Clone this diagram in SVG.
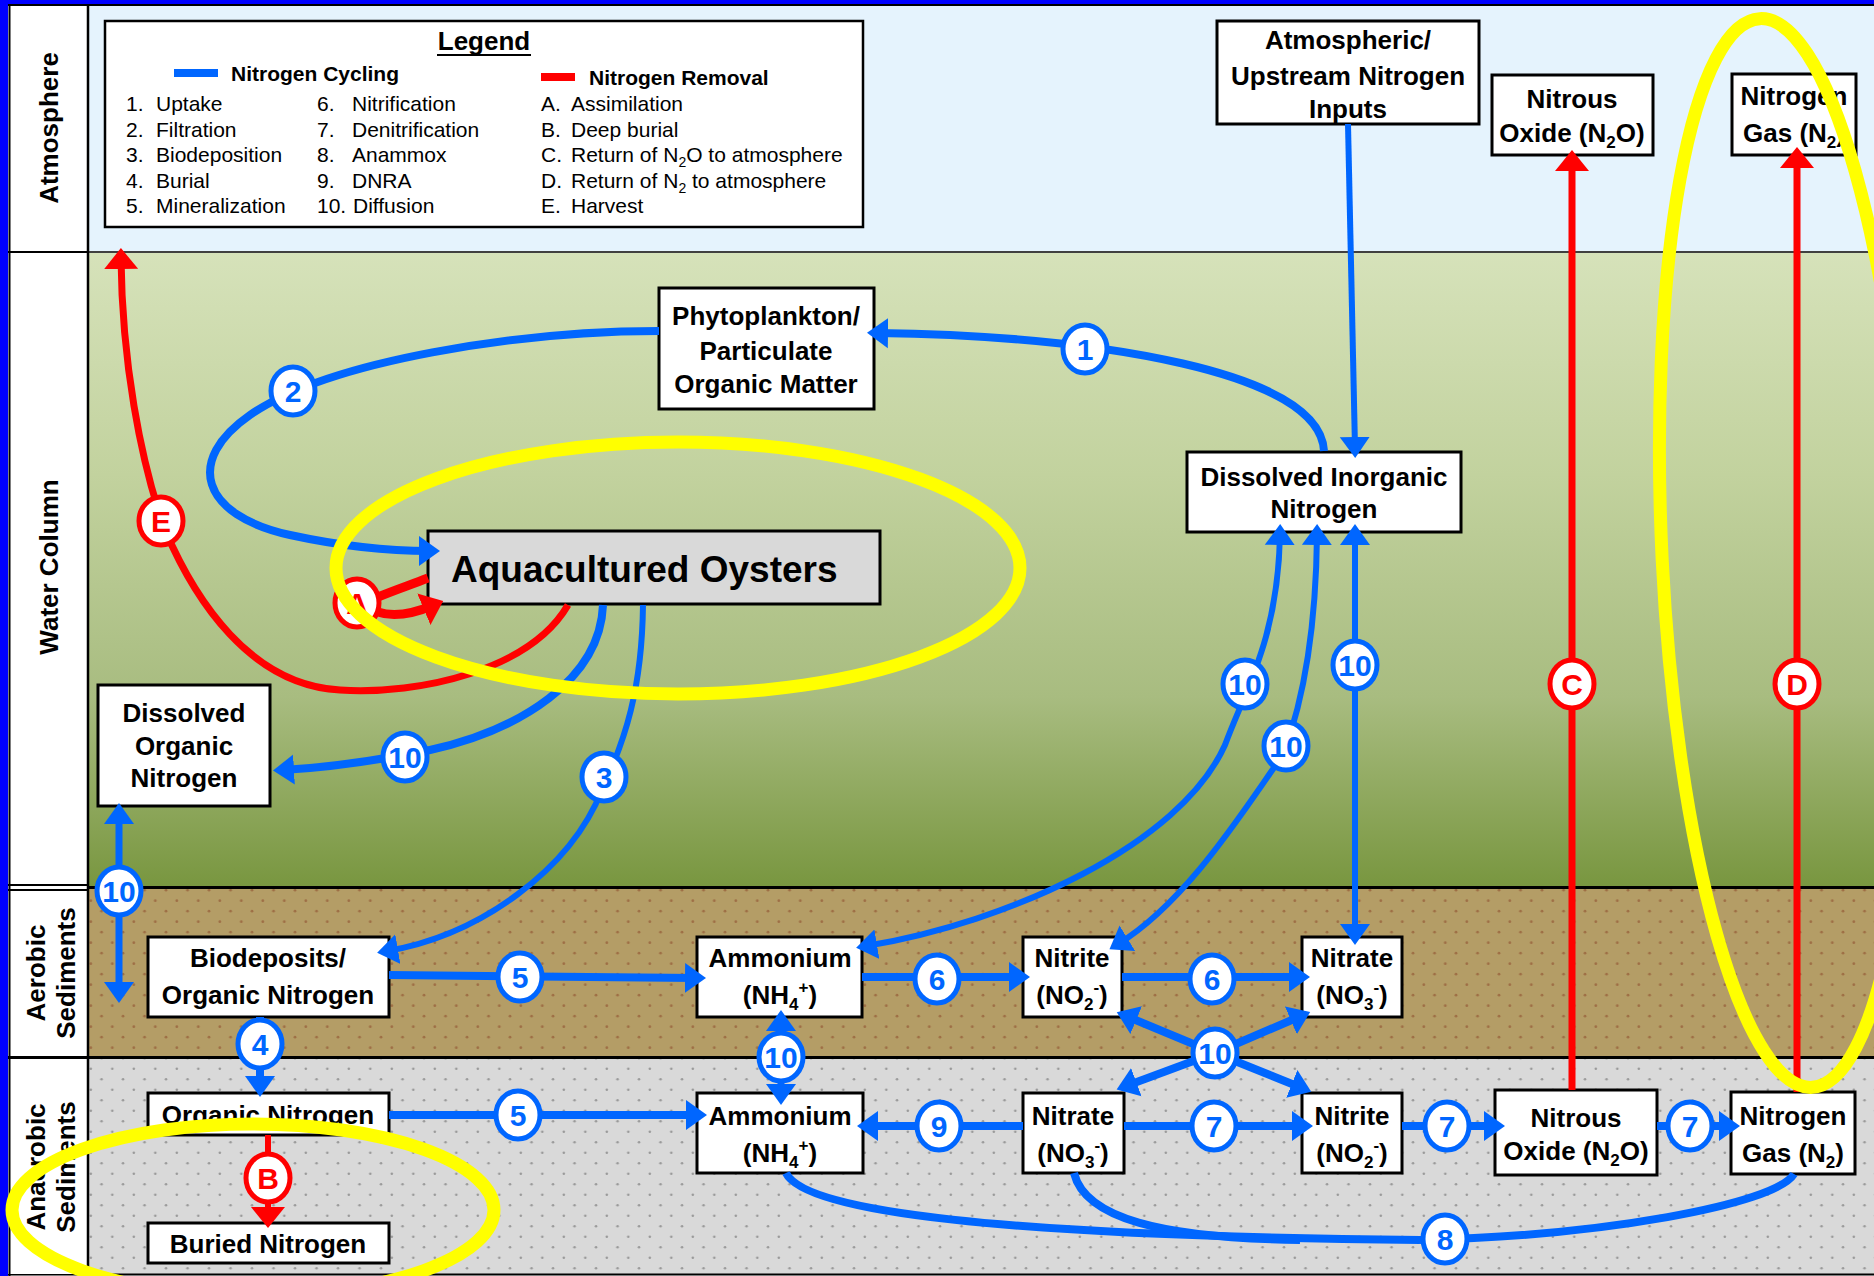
<svg xmlns="http://www.w3.org/2000/svg" width="1874" height="1276" viewBox="0 0 1874 1276">
<style>
.nb{fill:#fff;stroke:#000;stroke-width:3}
.nt{font-family:"Liberation Sans",Arial,sans-serif;font-weight:bold;font-size:26px;text-anchor:middle;fill:#000}
.lt{font-family:"Liberation Sans",Arial,sans-serif;font-size:21px;fill:#000}
.lh{font-family:"Liberation Sans",Arial,sans-serif;font-weight:bold;font-size:21px;fill:#000}
.side{font-family:"Liberation Sans",Arial,sans-serif;font-weight:bold;font-size:26px;text-anchor:middle;fill:#000}
.bl{fill:none;stroke:#0066FF}
.rl{fill:none;stroke:#FF0000}
.cb{fill:#fff;stroke:#0066FF;stroke-width:5}
.cr{fill:#fff;stroke:#FF0000;stroke-width:5}
.ctb{font-family:"Liberation Sans",Arial,sans-serif;font-weight:bold;font-size:30px;text-anchor:middle;fill:#0066FF}
.ctr{font-family:"Liberation Sans",Arial,sans-serif;font-weight:bold;font-size:30px;text-anchor:middle;fill:#FF0000}
.yl{fill:none;stroke:#FFFF00;stroke-width:13}
.sub{font-size:17px}
</style>
<defs>
<linearGradient id="gw" x1="0" y1="0" x2="0" y2="1">
<stop offset="0" stop-color="#D6E2BA"/>
<stop offset="0.35" stop-color="#C2D29E"/>
<stop offset="0.7" stop-color="#A8BC80"/>
<stop offset="1" stop-color="#78963F"/>
</linearGradient>
<pattern id="pa" patternUnits="userSpaceOnUse" x="0" y="0" width="21.5" height="21">
<circle cx="4.8" cy="18.7" r="1.4" fill="#9E6F45"/>
<circle cx="15.55" cy="8.2" r="1.4" fill="#9E6F45"/>
</pattern>
<pattern id="pn" patternUnits="userSpaceOnUse" x="0" y="0" width="21.5" height="21">
<circle cx="4.8" cy="18.7" r="1.3" fill="#9A9A9A"/>
<circle cx="15.55" cy="8.2" r="1.3" fill="#9A9A9A"/>
</pattern>
<marker id="ab" markerUnits="userSpaceOnUse" markerWidth="24" markerHeight="32" refX="11" refY="16" orient="auto-start-reverse">
<path d="M0,1 L21,16 L0,31 z" fill="#0066FF"/>
</marker>
<marker id="ar" markerUnits="userSpaceOnUse" markerWidth="24" markerHeight="36" refX="11" refY="18" orient="auto-start-reverse">
<path d="M0,1 L21,18 L0,35 z" fill="#FF0000"/>
</marker>
</defs>

<g id="background">
<rect x="0" y="0" width="1874" height="1276" fill="#fff"/>
<rect x="88" y="6" width="1786" height="246" fill="#E5F3FD"/>
<rect x="88" y="252" width="1786" height="636" fill="url(#gw)"/>
<rect x="88" y="888" width="1786" height="169" fill="#B49D66"/>
<rect x="88" y="888" width="1786" height="169" fill="url(#pa)"/>
<rect x="88" y="1057" width="1786" height="217" fill="#D9D9D9"/>
<rect x="88" y="1057" width="1786" height="217" fill="url(#pn)"/>
<line x1="88" y1="252" x2="1874" y2="252" stroke="#404040" stroke-width="2"/>
<line x1="88" y1="887.5" x2="1874" y2="887.5" stroke="#000" stroke-width="3"/>
<line x1="88" y1="1057.5" x2="1874" y2="1057.5" stroke="#000" stroke-width="3"/>
<line x1="8" y1="1274.5" x2="1874" y2="1274.5" stroke="#000" stroke-width="2"/>
<rect x="8" y="6" width="80" height="1268" fill="#fff"/>
<line x1="88" y1="6" x2="88" y2="1276" stroke="#000" stroke-width="2.5"/>
<line x1="9.5" y1="6" x2="9.5" y2="1276" stroke="#000" stroke-width="2"/>
<line x1="8" y1="252" x2="88" y2="252" stroke="#000" stroke-width="2"/>
<line x1="8" y1="885" x2="88" y2="885" stroke="#000" stroke-width="2"/>
<line x1="8" y1="890" x2="88" y2="890" stroke="#000" stroke-width="2"/>
<line x1="8" y1="1057.5" x2="88" y2="1057.5" stroke="#000" stroke-width="3"/>
<rect x="0" y="0" width="1874" height="4" fill="#0000FF"/>
<line x1="0" y1="5" x2="1874" y2="5" stroke="#000" stroke-width="2"/>
<rect x="0" y="0" width="8" height="1276" fill="#0000FF"/>
<text class="side" transform="translate(58,128) rotate(-90)">Atmosphere</text>
<text class="side" transform="translate(58,567) rotate(-90)">Water Column</text>
<text class="side" transform="translate(45,973) rotate(-90)">Aerobic</text>
<text class="side" transform="translate(75,973) rotate(-90)">Sediments</text>
<text class="side" transform="translate(45,1167) rotate(-90)">Anaerobic</text>
<text class="side" transform="translate(75,1167) rotate(-90)">Sediments</text>
</g>

<g id="legend">
<rect x="105" y="21" width="758" height="206" fill="#fff" stroke="#000" stroke-width="2.5"/>
<text x="484" y="50" text-anchor="middle" font-family="Liberation Sans, Arial, sans-serif" font-weight="bold" font-size="26">Legend</text>
<line x1="437" y1="55" x2="531" y2="55" stroke="#000" stroke-width="2"/>
<rect x="174" y="69" width="44" height="8" fill="#0066FF"/>
<text class="lh" x="231" y="81">Nitrogen Cycling</text>
<rect x="541" y="73" width="34" height="8" fill="#FF0000"/>
<text class="lh" x="589" y="85">Nitrogen Removal</text>
<text class="lt" x="126" y="111">1.</text><text class="lt" x="156" y="111">Uptake</text>
<text class="lt" x="126" y="137">2.</text><text class="lt" x="156" y="137">Filtration</text>
<text class="lt" x="126" y="162">3.</text><text class="lt" x="156" y="162">Biodeposition</text>
<text class="lt" x="126" y="188">4.</text><text class="lt" x="156" y="188">Burial</text>
<text class="lt" x="126" y="213">5.</text><text class="lt" x="156" y="213">Mineralization</text>
<text class="lt" x="317" y="111">6.</text><text class="lt" x="352" y="111">Nitrification</text>
<text class="lt" x="317" y="137">7.</text><text class="lt" x="352" y="137">Denitrification</text>
<text class="lt" x="317" y="162">8.</text><text class="lt" x="352" y="162">Anammox</text>
<text class="lt" x="317" y="188">9.</text><text class="lt" x="352" y="188">DNRA</text>
<text class="lt" x="317" y="213">10.</text><text class="lt" x="353" y="213">Diffusion</text>
<text class="lt" x="541" y="111">A.</text><text class="lt" x="571" y="111">Assimilation</text>
<text class="lt" x="541" y="137">B.</text><text class="lt" x="571" y="137">Deep burial</text>
<text class="lt" x="541" y="162">C.</text><text class="lt" x="571" y="162">Return of N<tspan font-size="14" dy="5">2</tspan><tspan dy="-5">O to atmosphere</tspan></text>
<text class="lt" x="541" y="188">D.</text><text class="lt" x="571" y="188">Return of N<tspan font-size="14" dy="5">2</tspan><tspan dy="-5"> to atmosphere</tspan></text>
<text class="lt" x="541" y="213">E.</text><text class="lt" x="571" y="213">Harvest</text>
</g>

<g id="n_atm"><rect class="nb" x="1217" y="21" width="262" height="103"/>
<text class="nt" x="1348" y="49">Atmospheric/</text><text class="nt" x="1348" y="85">Upstream Nitrogen</text><text class="nt" x="1348" y="118">Inputs</text></g>
<g id="n_n2o_atm"><rect class="nb" x="1492" y="75" width="161" height="80"/>
<text class="nt" x="1572" y="108">Nitrous</text><text class="nt" x="1572" y="142">Oxide (N<tspan class="sub" dy="6">2</tspan><tspan dy="-6">O)</tspan></text></g>
<g id="n_n2_atm"><rect class="nb" x="1732" y="74" width="124" height="81"/>
<text class="nt" x="1794" y="105">Nitrogen</text><text class="nt" x="1794" y="142">Gas (N<tspan class="sub" dy="6">2</tspan><tspan dy="-6">)</tspan></text></g>
<g id="n_phyto"><rect class="nb" x="659" y="288" width="215" height="121"/>
<text class="nt" x="766" y="325">Phytoplankton/</text><text class="nt" x="766" y="360">Particulate</text><text class="nt" x="766" y="393">Organic Matter</text></g>
<g id="n_oysters"><rect x="428" y="531" width="452" height="73" fill="#D9D9D9" stroke="#000" stroke-width="3"/>
<text x="451" y="582" font-family="Liberation Sans, Arial, sans-serif" font-weight="bold" font-size="37">Aquacultured Oysters</text></g>
<g id="n_din"><rect class="nb" x="1187" y="452" width="274" height="80"/>
<text class="nt" x="1324" y="486">Dissolved Inorganic</text><text class="nt" x="1324" y="518">Nitrogen</text></g>
<g id="n_don"><rect class="nb" x="98" y="685" width="172" height="121"/>
<text class="nt" x="184" y="722">Dissolved</text><text class="nt" x="184" y="755">Organic</text><text class="nt" x="184" y="787">Nitrogen</text></g>
<g id="n_bio"><rect class="nb" x="148" y="937" width="241" height="80"/>
<text class="nt" x="268" y="967">Biodeposits/</text><text class="nt" x="268" y="1004">Organic Nitrogen</text></g>
<g id="n_amm_aer"><rect class="nb" x="697" y="937" width="165" height="80"/>
<text class="nt" x="780" y="967">Ammonium</text><text class="nt" x="780" y="1004">(NH<tspan class="sub" dy="6">4</tspan><tspan class="sub" dy="-17">+</tspan><tspan dy="11">)</tspan></text></g>
<g id="n_nit_aer"><rect class="nb" x="1023" y="937" width="99" height="80"/>
<text class="nt" x="1072" y="967">Nitrite</text><text class="nt" x="1072" y="1004">(NO<tspan class="sub" dy="6">2</tspan><tspan class="sub" dy="-17">-</tspan><tspan dy="11">)</tspan></text></g>
<g id="n_nat_aer"><rect class="nb" x="1302" y="937" width="100" height="80"/>
<text class="nt" x="1352" y="967">Nitrate</text><text class="nt" x="1352" y="1004">(NO<tspan class="sub" dy="6">3</tspan><tspan class="sub" dy="-17">-</tspan><tspan dy="11">)</tspan></text></g>
<g id="n_org"><rect class="nb" x="148" y="1093" width="241" height="42"/>
<text class="nt" x="268" y="1124">Organic Nitrogen</text></g>
<g id="n_buried"><rect class="nb" x="148" y="1223" width="241" height="40"/>
<text class="nt" x="268" y="1253">Buried Nitrogen</text></g>
<g id="n_amm_ana"><rect class="nb" x="697" y="1093" width="166" height="80"/>
<text class="nt" x="780" y="1125">Ammonium</text><text class="nt" x="780" y="1162">(NH<tspan class="sub" dy="6">4</tspan><tspan class="sub" dy="-17">+</tspan><tspan dy="11">)</tspan></text></g>
<g id="n_nat_ana"><rect class="nb" x="1023" y="1093" width="101" height="80"/>
<text class="nt" x="1073" y="1125">Nitrate</text><text class="nt" x="1073" y="1162">(NO<tspan class="sub" dy="6">3</tspan><tspan class="sub" dy="-17">-</tspan><tspan dy="11">)</tspan></text></g>
<g id="n_nit_ana"><rect class="nb" x="1302" y="1093" width="100" height="80"/>
<text class="nt" x="1352" y="1125">Nitrite</text><text class="nt" x="1352" y="1162">(NO<tspan class="sub" dy="6">2</tspan><tspan class="sub" dy="-17">-</tspan><tspan dy="11">)</tspan></text></g>
<g id="n_n2o_ana"><rect class="nb" x="1495" y="1090" width="162" height="85"/>
<text class="nt" x="1576" y="1127">Nitrous</text><text class="nt" x="1576" y="1160">Oxide (N<tspan class="sub" dy="6">2</tspan><tspan dy="-6">O)</tspan></text></g>
<g id="n_n2_ana"><rect class="nb" x="1731" y="1092" width="124" height="82"/>
<text class="nt" x="1793" y="1125">Nitrogen</text><text class="nt" x="1793" y="1162">Gas (N<tspan class="sub" dy="6">2</tspan><tspan dy="-6">)</tspan></text></g>

<g id="connectors">
<path class="bl" stroke-width="6" d="M1348,124 L1355,448" marker-end="url(#ab)"/>
<path class="bl" stroke-width="8" d="M1324,451 C1320,372 1100,336 877,333" marker-end="url(#ab)"/>
<path class="bl" stroke-width="8" d="M659,331 C520,331 330,360 250,415 C185,460 200,515 290,535 C350,548 395,551 430,551" marker-end="url(#ab)"/>
<path class="bl" stroke-width="8" d="M603,605 C600,680 520,730 430,750 C370,762 320,768 283,770" marker-end="url(#ab)"/>
<path class="bl" stroke-width="6" d="M643,605 C642,690 625,740 602,790 C570,870 480,935 387,951" marker-end="url(#ab)"/>
<path class="bl" stroke-width="7" d="M119,813 L119,993" marker-start="url(#ab)" marker-end="url(#ab)"/>
<path class="bl" stroke-width="8" d="M389,975 L696,978" marker-end="url(#ab)"/>
<path class="bl" stroke-width="8" d="M260,1017 L260,1087" marker-end="url(#ab)"/>
<path class="bl" stroke-width="8" d="M389,1115 L697,1115" marker-end="url(#ab)"/>
<path class="bl" stroke-width="7" d="M781,1020 L781,1095" marker-start="url(#ab)" marker-end="url(#ab)"/>
<path class="bl" stroke-width="8" d="M862,977 L1020,977" marker-end="url(#ab)"/>
<path class="bl" stroke-width="8" d="M1122,977 L1300,977" marker-end="url(#ab)"/>
<path class="bl" stroke-width="8" d="M1215,1053 L1126,1016" marker-end="url(#ab)"/>
<path class="bl" stroke-width="8" d="M1215,1053 L1301,1016" marker-end="url(#ab)"/>
<path class="bl" stroke-width="8" d="M1215,1053 L1126,1086" marker-end="url(#ab)"/>
<path class="bl" stroke-width="8" d="M1215,1053 L1302,1088" marker-end="url(#ab)"/>
<path class="bl" stroke-width="8" d="M1023,1126 L867,1126" marker-end="url(#ab)"/>
<path class="bl" stroke-width="8" d="M1124,1126 L1303,1126" marker-end="url(#ab)"/>
<path class="bl" stroke-width="8" d="M1402,1126 L1495,1126" marker-end="url(#ab)"/>
<path class="bl" stroke-width="8" d="M1657,1126 L1730,1126" marker-end="url(#ab)"/>
<path class="bl" stroke-width="8" d="M786,1173 C805,1212 1000,1236 1420,1240"/>
<path class="bl" stroke-width="8" d="M1074,1173 C1085,1218 1160,1238 1300,1240"/>
<path class="bl" stroke-width="8" d="M1420,1240 C1600,1236 1775,1205 1794,1174"/>
<path class="bl" stroke-width="6" d="M1280,534 C1278,640 1245,690 1225,745 C1180,845 1010,922 866,946" marker-start="url(#ab)" marker-end="url(#ab)"/>
<path class="bl" stroke-width="6" d="M1317,534 C1316,640 1300,710 1283,755 C1250,800 1190,900 1118,944" marker-start="url(#ab)" marker-end="url(#ab)"/>
<path class="bl" stroke-width="6" d="M1355,534 L1355,935" marker-start="url(#ab)" marker-end="url(#ab)"/>
<path class="rl" stroke-width="7" d="M1572,1090 L1572,160" marker-end="url(#ar)"/>
<path class="rl" stroke-width="7" d="M1797,1092 L1797,157" marker-end="url(#ar)"/>
<path class="rl" stroke-width="7" d="M568,605 C530,670 420,695 340,690 C250,685 195,600 165,530 C140,460 122,360 121,258" marker-end="url(#ar)"/>
<path class="rl" stroke-width="9" d="M428,578 C410,585 395,590 378,597"/>
<path class="rl" stroke-width="9" d="M378,612 C395,618 415,613 434,605" marker-end="url(#ar)"/>
<path class="rl" stroke-width="6" d="M268,1135 L268,1218" marker-end="url(#ar)"/>
</g>

<g id="labels">
<ellipse class="cb" cx="1085" cy="349" rx="22" ry="24"/><text class="ctb" x="1085" y="360">1</text>
<ellipse class="cb" cx="293" cy="391" rx="22" ry="24"/><text class="ctb" x="293" y="402">2</text>
<ellipse class="cb" cx="604" cy="777" rx="22" ry="24"/><text class="ctb" x="604" y="788">3</text>
<ellipse class="cb" cx="405" cy="757" rx="22" ry="24"/><text class="ctb" x="405" y="768">10</text>
<ellipse class="cb" cx="119" cy="891" rx="22" ry="24"/><text class="ctb" x="119" y="902">10</text>
<ellipse class="cb" cx="1245" cy="684" rx="22" ry="24"/><text class="ctb" x="1245" y="695">10</text>
<ellipse class="cb" cx="1286" cy="746" rx="22" ry="24"/><text class="ctb" x="1286" y="757">10</text>
<ellipse class="cb" cx="1355" cy="665" rx="22" ry="24"/><text class="ctb" x="1355" y="676">10</text>
<ellipse class="cb" cx="520" cy="977" rx="22" ry="24"/><text class="ctb" x="520" y="988">5</text>
<ellipse class="cb" cx="260" cy="1044" rx="22" ry="24"/><text class="ctb" x="260" y="1055">4</text>
<ellipse class="cb" cx="781" cy="1057" rx="22" ry="24"/><text class="ctb" x="781" y="1068">10</text>
<ellipse class="cb" cx="518" cy="1115" rx="22" ry="24"/><text class="ctb" x="518" y="1126">5</text>
<ellipse class="cb" cx="937" cy="979" rx="22" ry="24"/><text class="ctb" x="937" y="990">6</text>
<ellipse class="cb" cx="1212" cy="979" rx="22" ry="24"/><text class="ctb" x="1212" y="990">6</text>
<ellipse class="cb" cx="1215" cy="1053" rx="22" ry="24"/><text class="ctb" x="1215" y="1064">10</text>
<ellipse class="cb" cx="939" cy="1126" rx="22" ry="24"/><text class="ctb" x="939" y="1137">9</text>
<ellipse class="cb" cx="1214" cy="1126" rx="22" ry="24"/><text class="ctb" x="1214" y="1137">7</text>
<ellipse class="cb" cx="1447" cy="1126" rx="22" ry="24"/><text class="ctb" x="1447" y="1137">7</text>
<ellipse class="cb" cx="1690" cy="1126" rx="22" ry="24"/><text class="ctb" x="1690" y="1137">7</text>
<ellipse class="cb" cx="1445" cy="1239" rx="22" ry="24"/><text class="ctb" x="1445" y="1250">8</text>
<ellipse class="cr" cx="161" cy="521" rx="22" ry="24"/><text class="ctr" x="161" y="532">E</text>
<ellipse class="cr" cx="357" cy="603" rx="22" ry="24"/><text class="ctr" x="357" y="614">A</text>
<ellipse class="cr" cx="268" cy="1178" rx="22" ry="24"/><text class="ctr" x="268" y="1189">B</text>
<ellipse class="cr" cx="1572" cy="684" rx="22" ry="24"/><text class="ctr" x="1572" y="695">C</text>
<ellipse class="cr" cx="1797" cy="684" rx="22" ry="24"/><text class="ctr" x="1797" y="695">D</text>
</g>

<g id="highlights">
<ellipse class="yl" cx="678" cy="568" rx="342" ry="126"/>
<ellipse class="yl" cx="253" cy="1210" rx="241" ry="86"/>
<ellipse class="yl" cx="1786" cy="553" rx="124" ry="535" transform="rotate(-2.8 1786 553)"/>
</g>
</svg>
